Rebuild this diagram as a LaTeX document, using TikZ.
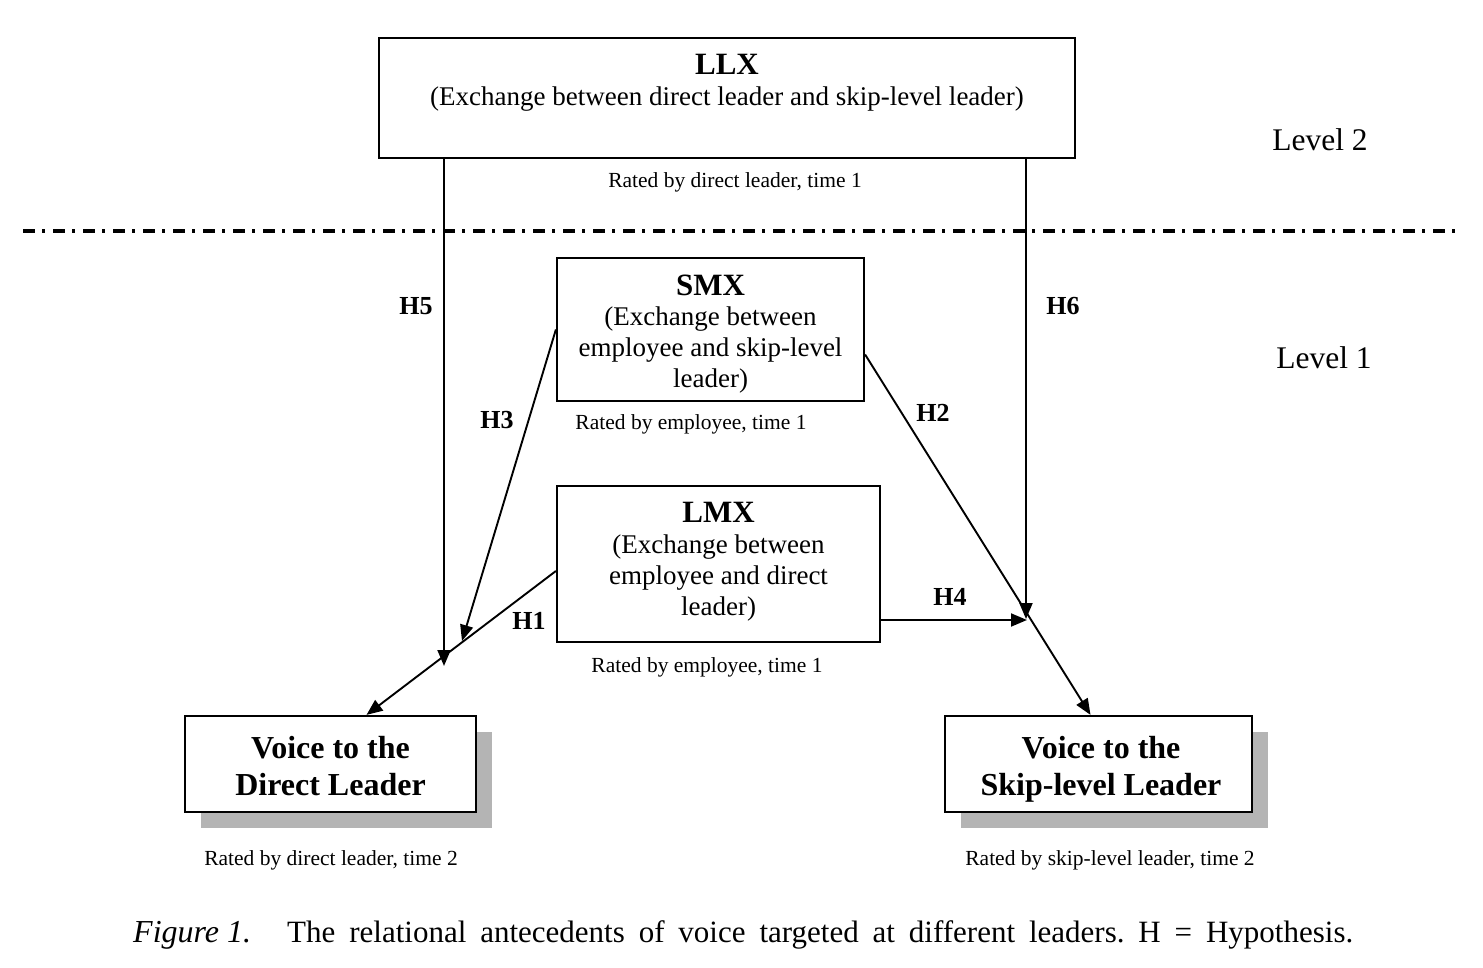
\documentclass[tikz,border=0pt]{standalone}
\usepackage{fontspec}
\setmainfont{Liberation Serif}
\usetikzlibrary{arrows.meta,calc}
\definecolor{shadowgray}{RGB}{180,180,180}
\begin{document}
\frenchspacing
\begin{tikzpicture}[x=1pt,y=-1pt,
  box/.style={draw=black, line width=2.2pt, fill=white, inner sep=0pt},
  shadowbox/.style={fill=shadowgray, draw=none, inner sep=0pt},
  arr/.style={line width=1.9pt, -{Triangle[length=16pt,width=13pt]}},
  title/.style={font=\fontsize{31}{36}\selectfont\bfseries},
  body/.style={font=\fontsize{27}{31}\selectfont, align=center},
  rated/.style={font=\fontsize{21.5}{24}\selectfont},
  hlab/.style={font=\fontsize{26}{28}\selectfont\bfseries},
  level/.style={font=\fontsize{31.5}{34}\selectfont},
  voice/.style={font=\fontsize{32}{37}\selectfont\bfseries, align=center}
]
\useasboundingbox (0,0) rectangle (1483,968);

% LLX
\node[box, minimum width=696pt, minimum height=120pt] (llx) at (727,98) {};
\node[title] (llxt) at (727,64) {LLX};
\node[body] (llxb) at (727,99) {(Exchange between direct leader and skip-level leader)};
\node[rated] (r1) at (735,182) {Rated by direct leader, time 1};

% level separator
\coordinate (dl) at (23,231);
\coordinate (dr) at (1458,231);
\draw[line width=3.2pt, dash pattern=on 12pt off 7pt on 3pt off 8pt] (dl) -- (dr);
\node[level] (lev2) at (1320,140) {Level 2};
\node[level] (lev1) at (1324,358) {Level 1};

% SMX
\node[box, minimum width=307pt, minimum height=143pt] (smx) at (710.5,329.5) {};
\node[title] (smxt) at (710.5,285) {SMX};
\node[body] (smxb) at (710.5,350) {(Exchange between\\employee and skip-level\\leader)};
\node[rated] (r2) at (691,424) {Rated by employee, time 1};

% LMX
\node[box, minimum width=323pt, minimum height=156pt] (lmx) at (718.5,564) {};
\node[title] (lmxt) at (718.5,512) {LMX};
\node[body] (lmxb) at (718.5,578) {(Exchange between\\employee and direct\\leader)};
\node[rated] (r3) at (707,667) {Rated by employee, time 1};

% Voice boxes with shadows
\node[shadowbox, minimum width=291pt, minimum height=96pt] (vdsh) at (346.5,780) {};
\node[box, minimum width=291pt, minimum height=96pt] (vd) at (330.5,764) {};
\node[voice] (vdt) at (330.5,766) {Voice to the\\Direct Leader};
\node[rated] (r4) at (331,860) {Rated by direct leader, time 2};

\node[shadowbox, minimum width=307pt, minimum height=96pt] (vssh) at (1114.5,780) {};
\node[box, minimum width=307pt, minimum height=96pt] (vs) at (1098.5,764) {};
\node[voice] (vst) at (1101,769) {Voice to the\\Skip-level Leader};
\node[rated] (r5) at (1110,860) {Rated by skip-level leader, time 2};

% junction points
\coordinate (j5) at (444,666);
\coordinate (j6) at (1026,619);
\coordinate (j4) at (1027,620);
\coordinate (j3) at (462,641);

% connectors
\draw[arr] (llx.south -| j5) -- (j5);
\draw[arr] (llx.south -| j6) -- (j6);
\draw[arr] (smx.west) -- (j3);
\draw[arr] ($(lmx.west)+(0,7)$) -- ($(vd.north)+(36,0)$);
\draw[arr] ($(smx.east)+(0,25)$) -- ($(vs.north)+(-8,0)$);
\draw[arr] ($(lmx.east)+(0,56)$) -- (j4);

% hypothesis labels
\node[hlab] (h5) at (416,306) {H5};
\node[hlab] (h6) at (1063,306) {H6};
\node[hlab] (h3) at (497,420) {H3};
\node[hlab] (h2) at (933,413) {H2};
\node[hlab] (h4) at (950,597) {H4};
\node[hlab] (h1) at (529,621) {H1};

% caption
\node[anchor=west, font=\fontsize{32}{36}\selectfont\itshape, inner sep=0pt] (capa) at (133,935) {Figure 1.};
\node[anchor=west, font=\fontsize{31}{36}\selectfont, inner sep=0pt] (capb) at (287,935) {\makebox[1066pt][s]{The relational antecedents of voice targeted at different leaders. H = Hypothesis.}};
\end{tikzpicture}
\end{document}
